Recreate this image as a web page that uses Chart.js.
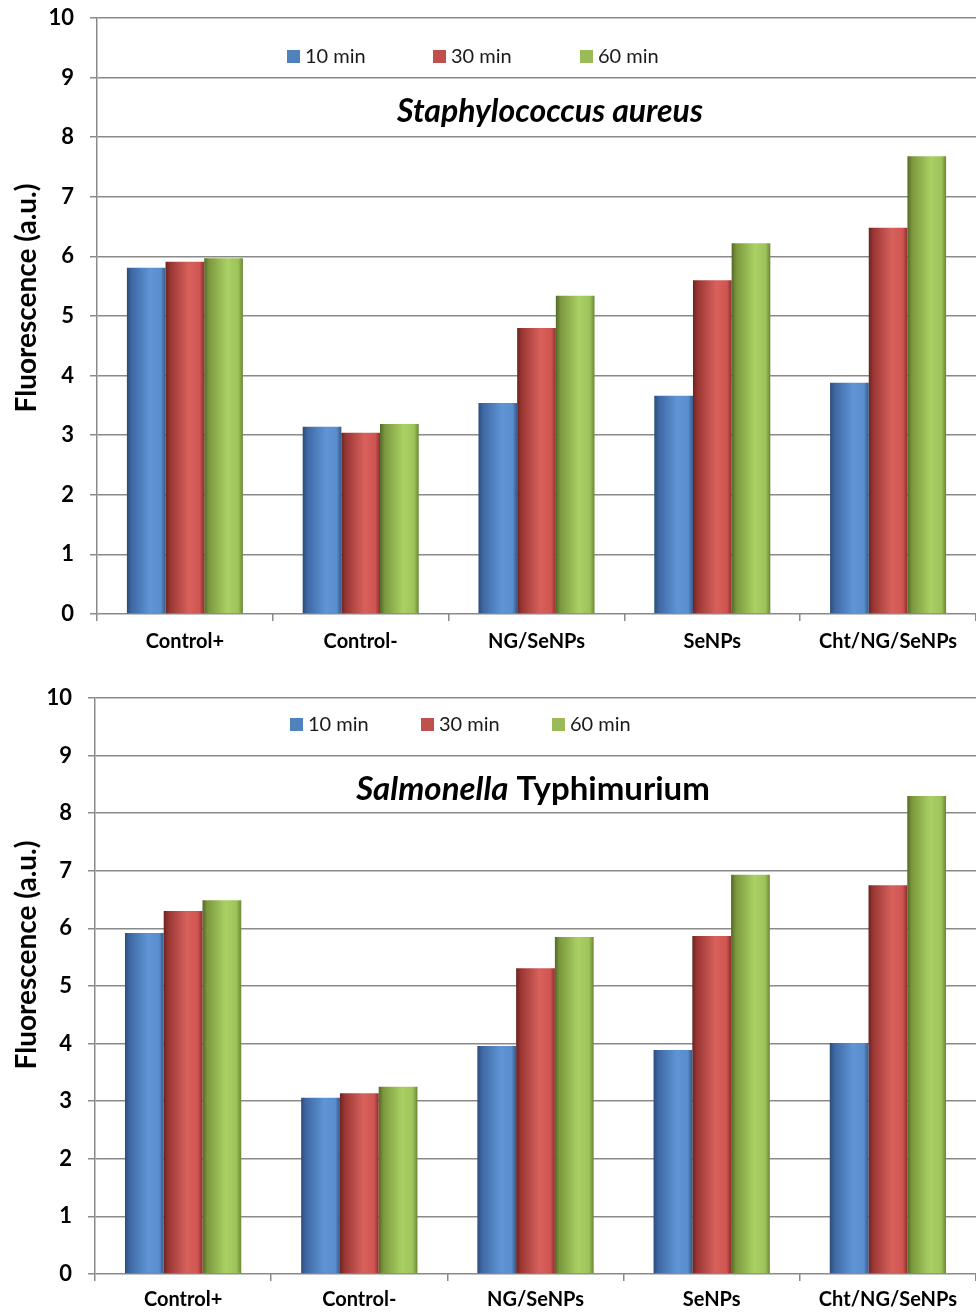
<!DOCTYPE html>
<html>
<head>
<meta charset="utf-8">
<script src="https://cdn.jsdelivr.net/npm/chart.js@4.4.1/dist/chart.umd.min.js"></script>
<style>
  body { margin: 0; background: #fff; }
  .box { position: relative; width: 976px; height: 656px; }
</style>
</head>
<body>
<div class="box"><canvas id="staph"></canvas></div>
<div class="box"><canvas id="salm"></canvas></div>
<script>
// categories and series
var categories = ['Control+', 'Control-', 'NG/SeNPs', 'SeNPs', 'Cht/NG/SeNPs'];
var seriesNames = ['10 min', '30 min', '60 min'];

// Staphylococcus aureus
var staph10 = [5.81, 3.14, 3.54, 3.66, 3.88];
var staph30 = [5.91, 3.04, 4.80, 5.60, 6.48];
var staph60 = [5.97, 3.19, 5.34, 6.22, 7.68];

// Salmonella Typhimurium
var salm10 = [5.92, 3.06, 3.96, 3.89, 4.01];
var salm30 = [6.30, 3.14, 5.31, 5.87, 6.75];
var salm60 = [6.49, 3.25, 5.85, 6.93, 8.30];

var yTickValues = [0, 1, 2, 3, 4, 5, 6, 7, 8, 9, 10];
var yTitle = 'Fluorescence (a.u.)';

var legendColors = ['#4f81bd', '#c0504d', '#9bbb59'];
var gradStops = [
  ['#2c4c79', '#3d68a3', '#5f95d6', '#5a8dcc', '#33588b'],
  ['#6a2422', '#9a3633', '#d8615c', '#cf5551', '#8a302e'],
  ['#546728', '#7b983d', '#aad164', '#9dc25a', '#6b8734']
];
var catPct = 0.66;

function barFill(ctx) {
  var chart = ctx.chart;
  var di = ctx.datasetIndex;
  if (!chart.chartArea || ctx.dataIndex === undefined) return legendColors[di];
  var xs = chart.scales.x;
  var center = xs.getPixelForValue(ctx.dataIndex);
  var group = xs.width / categories.length * catPct;
  var bw = group / 3;
  var left = center - group / 2 + di * bw;
  var g = chart.ctx.createLinearGradient(left, 0, left + bw, 0);
  var s = gradStops[di];
  g.addColorStop(0, s[0]);
  g.addColorStop(0.12, s[1]);
  g.addColorStop(0.6, s[2]);
  g.addColorStop(0.88, s[3]);
  g.addColorStop(1, s[4]);
  return g;
}

// legend, title and axis title drawn inside / beside the plot area
var inlineText = {
  id: 'inlineText',
  afterDraw: function (chart, args, opts) {
    var c = chart.ctx;
    c.save();
    c.textBaseline = 'middle';
    c.font = '20px Lato';
    opts.legendX.forEach(function (x, i) {
      c.fillStyle = legendColors[i];
      c.fillRect(x, opts.legendY - 7, 13, 13);
      c.fillStyle = '#1a1a1a';
      c.fillText(chart.data.datasets[i].label, x + 18, opts.legendY);
    });
    var total = 0;
    opts.title.forEach(function (p) {
      c.font = p.font;
      total += c.measureText(p.text).width;
    });
    var x = opts.titleX - total / 2;
    c.fillStyle = '#000';
    opts.title.forEach(function (p) {
      c.font = p.font;
      c.fillText(p.text, x, opts.titleY);
      x += c.measureText(p.text).width;
    });
    // y axis title
    c.translate(27, opts.yTitleY);
    c.rotate(-Math.PI / 2);
    c.textAlign = 'center';
    c.font = 'bold 28px Lato';
    c.fillText(yTitle, 0, 0);
    c.restore();
  }
};

function makeChart(id, v10, v30, v60, lay) {
  var data = [v10, v30, v60];
  return new Chart(document.getElementById(id), {
    type: 'bar',
    data: {
      labels: categories,
      datasets: seriesNames.map(function (name, i) {
        return {
          label: name,
          data: data[i],
          backgroundColor: barFill,
          borderWidth: 0,
          categoryPercentage: catPct,
          barPercentage: 1.0
        };
      })
    },
    options: {
      responsive: true,
      maintainAspectRatio: false,
      animation: false,
      layout: { padding: { top: lay.top, right: 0, bottom: 0, left: 0 } },
      plugins: {
        legend: { display: false },
        tooltip: { enabled: false },
        inlineText: lay.text
      },
      scales: {
        x: {
          afterFit: function (s) { s.height = lay.xHeight; },
          grid: { drawOnChartArea: false, drawTicks: true, tickLength: 7, color: '#8a8a8a', lineWidth: 1.5 },
          border: { display: false },
          ticks: { color: '#000', font: { family: 'Lato', size: 20, weight: 'bold' }, padding: lay.xPad, maxRotation: 0 }
        },
        y: {
          min: 0,
          max: 10,
          afterFit: function (s) {
            s.width = lay.yWidth;
            s.paddingTop = 0;
            s.paddingBottom = 0;
          },
          afterBuildTicks: function (s) { s.ticks = yTickValues.map(function (v) { return { value: v }; }); },
          grid: { color: '#8a8a8a', lineWidth: 1.5, tickLength: 7 },
          border: { color: '#8a8a8a', width: 1.5 },
          ticks: { color: '#000', font: { family: 'Lato', size: 22, weight: 'bold' }, padding: 16 }
        }
      }
    },
    plugins: [inlineText]
  });
}

makeChart('staph', staph10, staph30, staph60, {
  top: 18, xHeight: 42, yWidth: 97, xPad: 9,
  text: {
    legendY: 57, legendX: [287, 433, 580],
    titleX: 550, titleY: 112,
    yTitleY: 298,
    title: [{ text: 'Staphylococcus aureus', font: 'italic bold 32px Lato' }]
  }
});

makeChart('salm', salm10, salm30, salm60, {
  top: 42, xHeight: 38, yWidth: 95, xPad: 7,
  text: {
    legendY: 725 - 656, legendX: [290, 421, 552],
    titleX: 533, titleY: 789 - 656,
    yTitleY: 955 - 656,
    title: [
      { text: 'Salmonella', font: 'italic bold 33px Lato' },
      { text: ' Typhimurium', font: 'bold 33px Lato' }
    ]
  }
});
</script>
</body>
</html>
